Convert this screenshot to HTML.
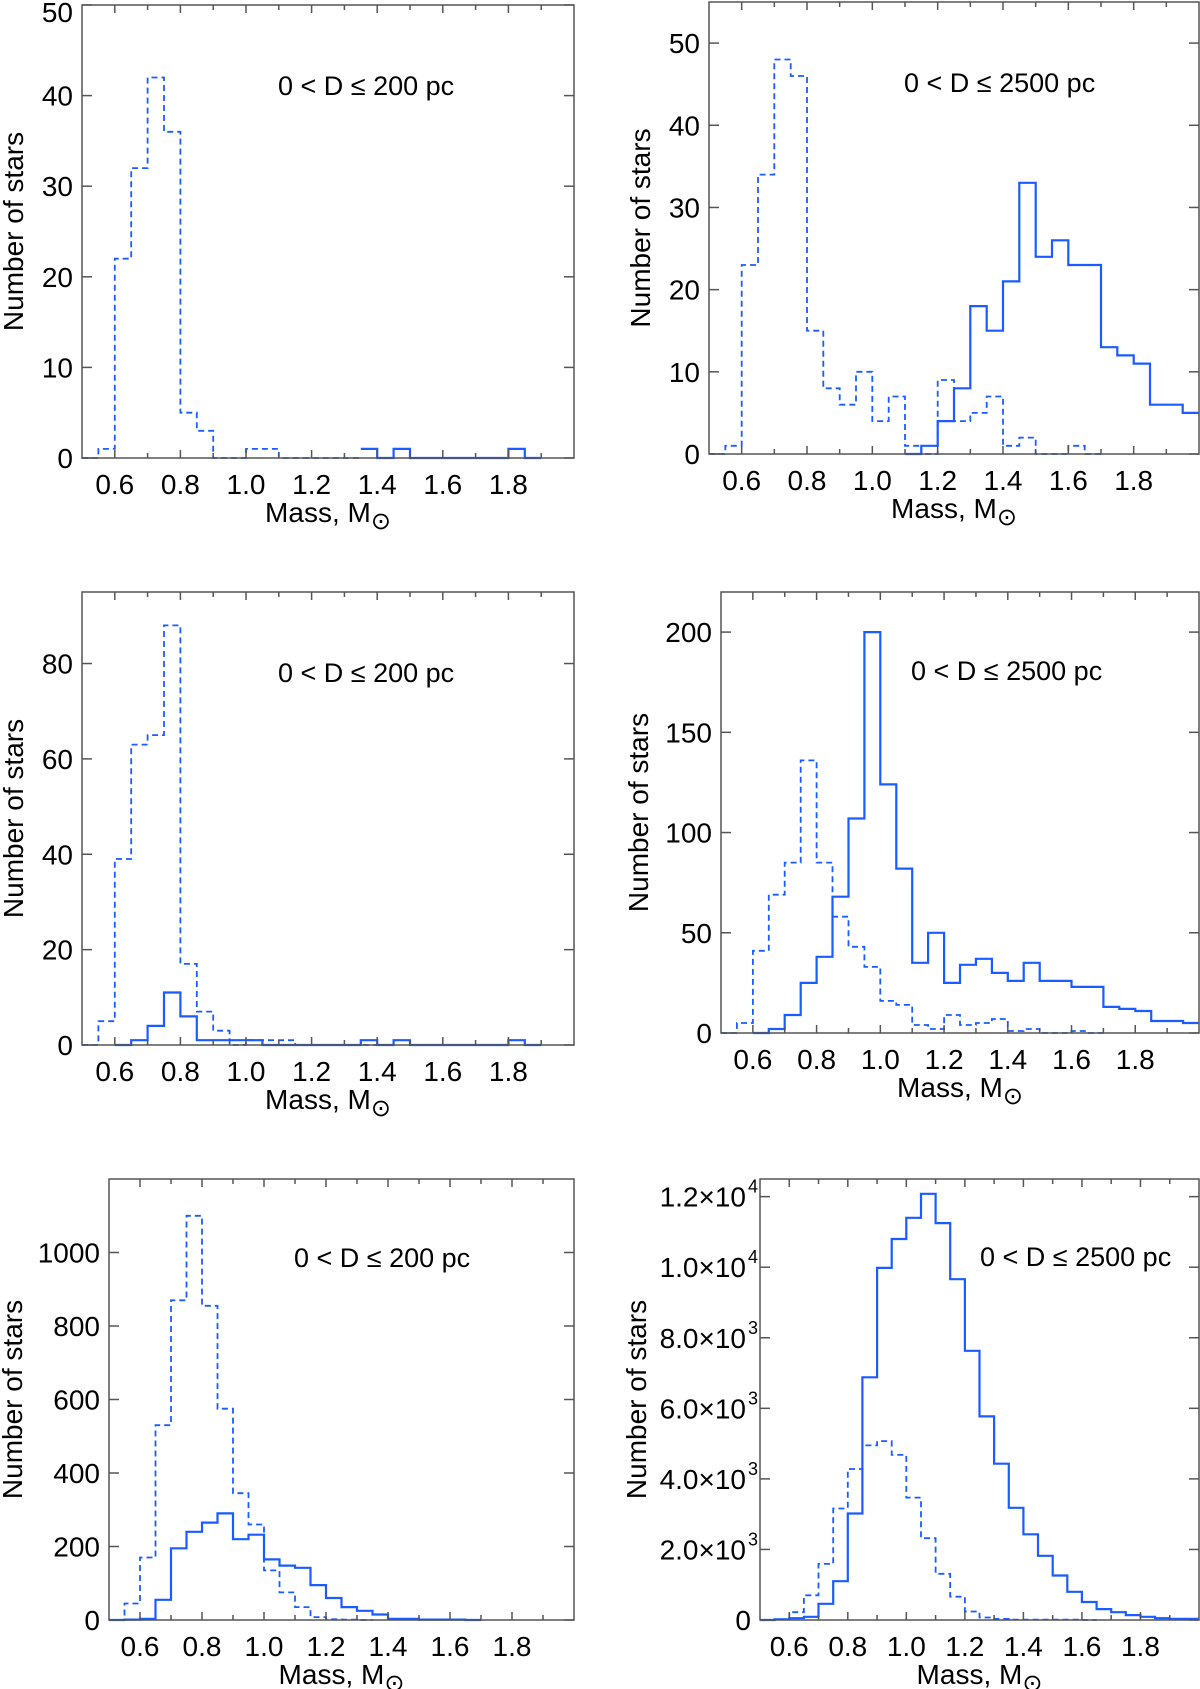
<!DOCTYPE html>
<html><head><meta charset="utf-8">
<style>
html,body{margin:0;padding:0;background:#fff;}
svg{display:block;}
text{font-family:"Liberation Sans",sans-serif;fill:#000;}
</style></head>
<body>
<svg id="fig" width="1200" height="1689" viewBox="0 0 1200 1689" xmlns="http://www.w3.org/2000/svg"></svg>
<script>
// Histogram data: bins of width 0.05 starting at mass 0.5 (null = not drawn)
const binStart = 0.5;
const binWidth = 0.05;
const xTickLabels = ["0.6","0.8","1.0","1.2","1.4","1.6","1.8"];

const p1Dashed = [0,1,22,32,42,36,5,3,0,0,1,1,0,0,0,0,0];
const p1Solid = [null,null,null,null,null,null,null,null,null,null,null,null,null,null,null,null,null,1,0,1,0,0,0,0,0,0,1,0];
const p1YTicks = [0,10,20,30,40,50];

const p2Dashed = [0,1,23,34,48,46,15,8,6,10,4,7,1,0,9,4,5,7,1,2,0,0,1,0];
const p2Solid = [null,null,null,null,null,null,null,null,null,null,null,null,0,1,4,8,18,15,21,33,24,26,23,23,13,12,11,6,6,5];
const p2YTicks = [0,10,20,30,40,50];

const p3Dashed = [0,5,39,63,65,88,17,7,3,0,1,1,1,0,0,0,0,0];
const p3Solid = [null,null,0,1,4,11,6,1,1,1,1,0,0,0,0,0,0,1,0,1,0,0,0,0,0,0,1,0];
const p3YTicks = [0,20,40,60,80];

const p4Dashed = [0,5,41,69,85,136,85,58,43,33,16,14,4,2,9,4,5,7,1,2,0,0,1,0];
const p4Solid = [null,null,0,2,9,25,38,68,107,200,124,82,35,50,25,34,37,30,26,35,26,26,23,23,13,12,11,6,6,5];
const p4YTicks = [0,50,100,150,200];

const p5Dashed = [0,45,170,530,870,1100,855,575,345,260,135,75,35,8,2,1,0];
const p5Solid = [0,1,3,55,195,240,265,290,220,232,165,148,142,95,60,35,25,15,3,3,1,1,1,0];
const p5YTicks = [0,200,400,600,800,1000];

const p6Dashed = [0,20,220,700,1590,3160,4280,4950,5070,4680,3470,2320,1310,660,240,70,30,10,10,10,10,10,0];
const p6Solid = [0,20,50,90,460,1100,3020,6880,9980,10800,11400,12080,11250,9660,7630,5770,4430,3180,2430,1820,1260,800,510,310,220,140,90,50,30,30];
const p6YTicks = [0,2000,4000,6000,8000,10000,12000];
const p6YMantissa = ["0","2.0","4.0","6.0","8.0","1.0","1.2"];
const p6YExp = ["","3","3","3","3","4","4"];

const NS = "http://www.w3.org/2000/svg";
const svg = document.getElementById('fig');
const BLUE = "#1a5cff";
const FS = 28;

function mk(tag, attrs, parent){
  const e = document.createElementNS(NS, tag);
  for (const k in attrs) e.setAttribute(k, attrs[k]);
  parent.appendChild(e);
  return e;
}

function stepPath(vals, x, y){
  let d = "", open = false;
  for (let i = 0; i < vals.length; i++){
    const v = vals[i];
    const xl = x(binStart + i*binWidth), xr = x(binStart + (i+1)*binWidth);
    if (v === null){ open = false; continue; }
    if (!open){ d += "M" + xl.toFixed(1) + "," + y(v).toFixed(1); open = true; }
    else { d += "V" + y(v).toFixed(1); }
    d += "H" + xr.toFixed(1);
  }
  return d;
}

function drawPanel(p){
  const g = mk('g', {}, svg);
  
  
  const x = v => p.L + (v - 0.5) / 1.5 * (p.R - p.L);
  const y = v => p.B - v / p.ymax * (p.B - p.T);

  const ds = mk('path', {d: stepPath(p.dashed, x, y), fill:'none', stroke:BLUE, 'stroke-width':1.8, 'stroke-dasharray':'6,4'}, g);
  
  
  const ss = mk('path', {d: stepPath(p.solid, x, y), fill:'none', stroke:BLUE, 'stroke-width':2.2}, g);
  
  

  const fr = mk('rect', {x:p.L, y:p.T, width:p.R-p.L, height:p.B-p.T, fill:'none', stroke:'#555', 'stroke-width':1.5}, g);
  
  

  for (let k = 6; k <= 19; k++){
    const xv = x(k/10);
    const len = (k % 2 === 0) ? 8 : 5;
    mk('line', {x1:xv, x2:xv, y1:p.B, y2:p.B-len, stroke:'#555', 'stroke-width':1.5}, g);
    mk('line', {x1:xv, x2:xv, y1:p.T, y2:p.T+len, stroke:'#555', 'stroke-width':1.5}, g);
  }
  xTickLabels.forEach(function(lab){
    const t = mk('text', {x:x(parseFloat(lab)), y:p.B+36, 'font-size':FS, 'text-anchor':'middle'}, g);
    t.textContent = lab;
    
    
  });

  p.yticks.forEach(function(v, i){
    const yv = y(v);
    mk('line', {x1:p.L, x2:p.L+10, y1:yv, y2:yv, stroke:'#555', 'stroke-width':1.5}, g);
    mk('line', {x1:p.R, x2:p.R-10, y1:yv, y2:yv, stroke:'#555', 'stroke-width':1.5}, g);
    const ty = Math.max(yv + 10, 22);
    const t = mk('text', {x:p.L-9, y:ty, 'font-size':FS, 'text-anchor':'end'}, g);
    if (p.mant){
      if (p.exps[i] === ""){ t.textContent = p.mant[i]; }
      else {
        t.setAttribute('x', p.L-14);
        t.textContent = p.mant[i] + "\u00d710";
        const s = mk('text', {x:p.L-2, y:yv-4, 'font-size':18, 'text-anchor':'end'}, g);
        s.textContent = p.exps[i];
        
        
      }
    } else t.textContent = String(v);
    
    
  });

  const xt = mk('text', {x:(p.L+p.R)/2, y:p.B+64, 'font-size':FS, 'text-anchor':'middle'}, g);
  xt.textContent = "Mass, M";
  const sub = mk('tspan', {'font-size':24, dy:7}, xt);
  sub.textContent = "\u2299";
  
  

  const ym = (p.T + p.B) / 2;
  const yt = mk('text', {x:p.ytx, y:ym, 'font-size':FS, 'text-anchor':'middle', transform:'rotate(-90 '+p.ytx+' '+ym+')'}, g);
  yt.textContent = "Number of stars";
  
  

  const tt = mk('text', {x:p.tx, y:p.ty, 'font-size':27}, g);
  tt.textContent = p.title;
  
  
}

drawPanel({name:'panel-top-left', L:82, R:574, T:5, B:458, ymax:50, yticks:p1YTicks, dashed:p1Dashed, solid:p1Solid, ytx:23, tx:278, ty:95, title:"0 < D \u2264 200 pc"});
drawPanel({name:'panel-top-right', L:709, R:1199, T:2, B:454, ymax:55, yticks:p2YTicks, dashed:p2Dashed, solid:p2Solid, ytx:650, tx:904, ty:92, title:"0 < D \u2264 2500 pc"});
drawPanel({name:'panel-mid-left', L:82, R:574, T:592, B:1045, ymax:95, yticks:p3YTicks, dashed:p3Dashed, solid:p3Solid, ytx:23, tx:278, ty:682, title:"0 < D \u2264 200 pc"});
drawPanel({name:'panel-mid-right', L:721, R:1199, T:592, B:1033, ymax:220, yticks:p4YTicks, dashed:p4Dashed, solid:p4Solid, ytx:648, tx:911, ty:680, title:"0 < D \u2264 2500 pc"});
drawPanel({name:'panel-bottom-left', L:109, R:574, T:1179, B:1620, ymax:1200, yticks:p5YTicks, dashed:p5Dashed, solid:p5Solid, ytx:22, tx:294, ty:1267, title:"0 < D \u2264 200 pc"});
drawPanel({name:'panel-bottom-right', L:760, R:1199, T:1179, B:1620, ymax:12500, yticks:p6YTicks, mant:p6YMantissa, exps:p6YExp, dashed:p6Dashed, solid:p6Solid, ytx:646, tx:980, ty:1266, title:"0 < D \u2264 2500 pc"});
</script>
</body></html>
